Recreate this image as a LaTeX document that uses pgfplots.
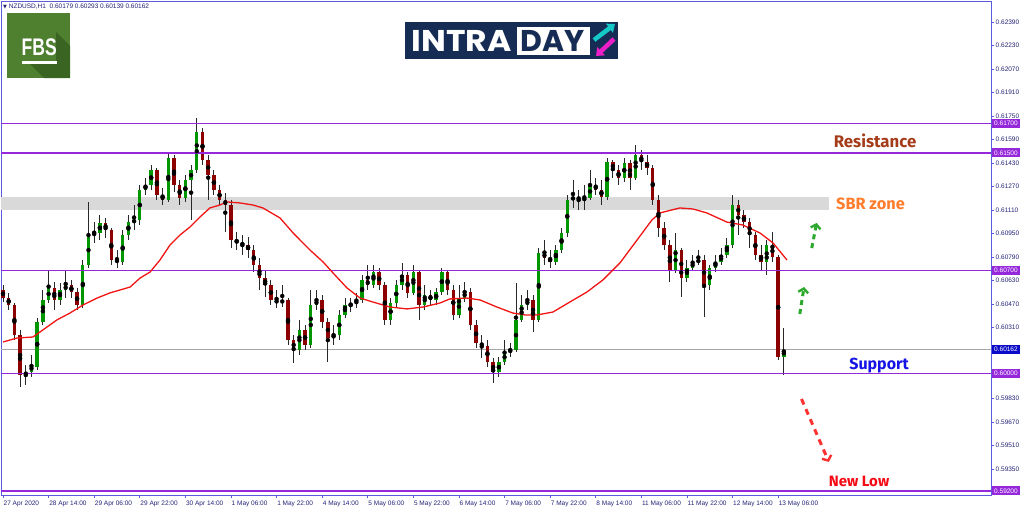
\documentclass[border=0pt]{standalone}
\usepackage{fontspec}
\setmainfont{Liberation Sans}
\newfontfamily\annotfont{Fira Sans}
\newfontfamily\logofont{Poppins}
\newfontfamily\symfont{DejaVu Sans}
\usepackage{graphicx}
\usepackage{pgfplots}
\usepackage{pgfplotstable}
\pgfplotsset{compat=1.18}
\usetikzlibrary{arrows.meta}

\definecolor{framecol}{RGB}{90,90,220}
\definecolor{tickcol}{RGB}{35,35,120}
\definecolor{lvl}{RGB}{150,40,220}
\definecolor{pricebox}{RGB}{10,10,200}
\definecolor{bullc}{RGB}{0,150,0}
\definecolor{bearc}{RGB}{140,0,0}
\definecolor{wickc}{RGB}{40,40,40}
\definecolor{mared}{RGB}{240,20,20}
\definecolor{resc}{RGB}{165,60,25}
\definecolor{sbrc}{RGB}{255,125,45}
\definecolor{supc}{RGB}{20,20,230}
\definecolor{lowc}{RGB}{245,10,20}
\definecolor{garrow}{RGB}{45,170,45}
\definecolor{rarrow}{RGB}{250,50,50}
\definecolor{fbsgreen}{RGB}{78,128,48}
\definecolor{fbsdark}{RGB}{58,100,34}
\definecolor{navy}{RGB}{22,44,84}
\definecolor{cyanl}{RGB}{20,200,200}
\definecolor{magl}{RGB}{235,30,200}

% H1 candles drawn at 2-hour steps; x = hours since 27 Apr 22:00
\pgfplotstableread{
x o h l c
8 0.59989 0.60057 0.59921 0.60009
10 0.60009 0.60125 0.59975 0.60057
12 0.60043 0.60377 0.60023 0.60350
14 0.60350 0.60567 0.60329 0.60499
16 0.60499 0.60703 0.60479 0.60581
20 0.60499 0.60615 0.60465 0.60567
22 0.60567 0.60703 0.60513 0.60601
28 0.60465 0.60771 0.60445 0.60737
30 0.60737 0.61166 0.60717 0.60941
32 0.60941 0.61030 0.60887 0.60955
34 0.60955 0.61077 0.60907 0.61023
42 0.60758 0.60975 0.60737 0.60941
44 0.60941 0.61077 0.60907 0.61030
46 0.61030 0.61145 0.60975 0.61043
48 0.61043 0.61282 0.61009 0.61248
50 0.61248 0.61329 0.61214 0.61282
52 0.61282 0.61417 0.61248 0.61383
58 0.61179 0.61506 0.61166 0.61465
64 0.61193 0.61350 0.61166 0.61315
66 0.61315 0.61417 0.61043 0.61383
68 0.61383 0.61737 0.61363 0.61642
98 0.60479 0.60601 0.60452 0.60499
104 0.60159 0.60363 0.60125 0.60295
108 0.60193 0.60567 0.60173 0.60465
110 0.60465 0.60567 0.60431 0.60499
116 0.60241 0.60329 0.60193 0.60261
118 0.60261 0.60431 0.60227 0.60397
120 0.60397 0.60513 0.60377 0.60465
122 0.60465 0.60513 0.60418 0.60472
124 0.60472 0.60547 0.60445 0.60499
126 0.60499 0.60669 0.60479 0.60635
130 0.60601 0.60737 0.60581 0.60690
136 0.60363 0.60513 0.60329 0.60479
138 0.60479 0.60635 0.60445 0.60601
140 0.60601 0.60751 0.60567 0.60669
144 0.60547 0.60737 0.60533 0.60690
148 0.60465 0.60601 0.60431 0.60533
152 0.60499 0.60581 0.60465 0.60554
154 0.60554 0.60717 0.60533 0.60690
160 0.60397 0.60601 0.60377 0.60513
162 0.60513 0.60622 0.60486 0.60554
174 0.60009 0.60111 0.59975 0.60077
176 0.60077 0.60227 0.60057 0.60145
178 0.60145 0.60207 0.60111 0.60159
180 0.60159 0.60615 0.60145 0.60363
182 0.60363 0.60533 0.60350 0.60465
184 0.60465 0.60567 0.60431 0.60499
188 0.60363 0.60853 0.60350 0.60819
194 0.60758 0.60873 0.60737 0.60839
196 0.60839 0.60989 0.60819 0.60955
198 0.60955 0.61214 0.60928 0.61179
200 0.61179 0.61315 0.61125 0.61200
204 0.61179 0.61282 0.61112 0.61193
206 0.61193 0.61383 0.61179 0.61282
212 0.61200 0.61465 0.61179 0.61438
218 0.61329 0.61465 0.61302 0.61431
222 0.61329 0.61553 0.61315 0.61486
236 0.60703 0.60955 0.60683 0.60839
240 0.60649 0.60771 0.60622 0.60717
242 0.60717 0.60805 0.60703 0.60758
244 0.60758 0.60839 0.60737 0.60771
248 0.60601 0.60737 0.60567 0.60717
250 0.60717 0.60805 0.60690 0.60758
252 0.60758 0.60853 0.60737 0.60805
254 0.60805 0.60921 0.60785 0.60873
256 0.60873 0.61214 0.60853 0.61145
268 0.60758 0.60907 0.60669 0.60873
274 0.60111 0.60309 0.59989 0.60162
}\bull

\pgfplotstableread{
x o h l c
0 0.60567 0.60601 0.60486 0.60513
2 0.60513 0.60547 0.60431 0.60465
4 0.60465 0.60479 0.60227 0.60261
6 0.60261 0.60295 0.59907 0.59989
18 0.60581 0.60622 0.60431 0.60499
24 0.60601 0.60635 0.60513 0.60554
26 0.60554 0.60581 0.60431 0.60465
36 0.61023 0.61057 0.60921 0.60975
38 0.60975 0.60989 0.60737 0.60771
40 0.60771 0.60839 0.60717 0.60758
54 0.61383 0.61397 0.61179 0.61214
56 0.61214 0.61261 0.61145 0.61179
60 0.61465 0.61486 0.61234 0.61282
62 0.61282 0.61315 0.61145 0.61193
70 0.61642 0.61669 0.61417 0.61451
72 0.61451 0.61486 0.61179 0.61350
74 0.61350 0.61383 0.61214 0.61248
76 0.61248 0.61282 0.61145 0.61179
78 0.61179 0.61227 0.60962 0.61145
80 0.61145 0.61179 0.60853 0.60907
82 0.60907 0.60962 0.60839 0.60887
84 0.60887 0.60941 0.60805 0.60873
86 0.60873 0.60928 0.60785 0.60839
88 0.60839 0.60873 0.60690 0.60737
90 0.60737 0.60785 0.60567 0.60649
92 0.60649 0.60703 0.60520 0.60601
94 0.60601 0.60635 0.60465 0.60499
96 0.60499 0.60567 0.60445 0.60479
100 0.60499 0.60513 0.60193 0.60227
102 0.60227 0.60261 0.60071 0.60159
106 0.60295 0.60329 0.60159 0.60193
112 0.60499 0.60533 0.60309 0.60350
114 0.60350 0.60377 0.60077 0.60241
128 0.60635 0.60737 0.60567 0.60601
132 0.60690 0.60717 0.60567 0.60601
134 0.60601 0.60622 0.60329 0.60363
142 0.60669 0.60690 0.60513 0.60547
146 0.60690 0.60703 0.60363 0.60465
150 0.60533 0.60567 0.60465 0.60499
156 0.60690 0.60703 0.60533 0.60567
158 0.60567 0.60601 0.60363 0.60397
164 0.60554 0.60581 0.60295 0.60329
166 0.60329 0.60363 0.60173 0.60207
168 0.60207 0.60261 0.60105 0.60186
170 0.60186 0.60227 0.60043 0.60077
172 0.60077 0.60105 0.59935 0.60009
186 0.60499 0.60533 0.60282 0.60363
190 0.60819 0.60907 0.60737 0.60785
192 0.60785 0.60839 0.60717 0.60758
202 0.61200 0.61248 0.61112 0.61179
208 0.61282 0.61329 0.61214 0.61248
210 0.61248 0.61315 0.61145 0.61200
214 0.61438 0.61451 0.61329 0.61383
216 0.61383 0.61417 0.61282 0.61329
220 0.61431 0.61451 0.61248 0.61329
224 0.61486 0.61519 0.61383 0.61438
226 0.61438 0.61486 0.61350 0.61397
228 0.61397 0.61417 0.61145 0.61179
230 0.61179 0.61214 0.60928 0.60989
232 0.60989 0.61030 0.60839 0.60873
234 0.60873 0.60907 0.60622 0.60703
238 0.60839 0.60853 0.60520 0.60649
246 0.60771 0.60805 0.60384 0.60601
258 0.61145 0.61179 0.60941 0.61077
260 0.61077 0.61112 0.60989 0.61030
262 0.61030 0.61057 0.60853 0.60941
264 0.60941 0.60962 0.60771 0.60805
266 0.60805 0.60873 0.60703 0.60758
270 0.60873 0.60962 0.60758 0.60792
272 0.60792 0.60805 0.60091 0.60111
}\bear

\begin{document}
\begin{tikzpicture}
\useasboundingbox (0,0) rectangle (1024pt,-511pt);

\begin{axis}[
  at={(1pt,-1pt)}, anchor=north west,
  scale only axis, width=990pt, height=494pt,
  xmin=-0.7, xmax=346.7, ymin=0.59172, ymax=0.62533,
  axis line style={framecol, line width=0.8pt},
  xtick pos=bottom, ytick pos=right, yticklabel pos=right,
  tick align=outside, major tick length=3pt,
  tick style={framecol, line width=0.6pt},
  xtick={0,16,...,272},
  xticklabels={27 Apr 2020,28 Apr 14:00,29 Apr 06:00,29 Apr 22:00,30 Apr 14:00,1 May 06:00,1 May 22:00,4 May 14:00,5 May 06:00,5 May 22:00,6 May 14:00,7 May 06:00,7 May 22:00,8 May 14:00,11 May 06:00,11 May 22:00,12 May 14:00,13 May 06:00},
  ytick={0.6239,0.6223,0.6207,0.6191,0.6175,0.6159,0.6143,0.6127,0.6111,0.6095,0.6079,0.6063,0.6047,0.6031,0.5983,0.5967,0.5951,0.5935},
  yticklabels={0.62390,0.62230,0.62070,0.61910,0.61750,0.61590,0.61430,0.61270,0.61110,0.60950,0.60790,0.60630,0.60470,0.60310,0.59830,0.59670,0.59510,0.59350},
  x tick label style={font=\fontsize{6.5}{7}\selectfont, text=tickcol, anchor=north west, inner sep=0pt, xshift=0.5pt, yshift=-3pt},
  y tick label style={font=\fontsize{6.5}{7}\selectfont, text=tickcol, anchor=west, inner sep=0pt, xshift=1.5pt},
]
% SBR zone band
\fill[black!15] (axis cs:-1,0.6111) rectangle (axis cs:289.8,0.6120);
% current price line
\addplot[gray!70, line width=0.6pt, forget plot] coordinates {(-1,0.60162) (347,0.60162)};

% wicks
\addplot[only marks, mark=none, forget plot, error bars/.cd, y dir=both, y explicit, error mark=none,
  error bar style={line width=0.9pt, draw=wickc}]
  table[x=x, y expr={(\thisrow{h}+\thisrow{l})/2}, y error expr={(\thisrow{h}-\thisrow{l})/2}] {\bull};
\addplot[only marks, mark=none, forget plot, error bars/.cd, y dir=both, y explicit, error mark=none,
  error bar style={line width=0.9pt, draw=wickc}]
  table[x=x, y expr={(\thisrow{h}+\thisrow{l})/2}, y error expr={(\thisrow{h}-\thisrow{l})/2}] {\bear};
% bodies
\addplot[only marks, mark=none, forget plot, error bars/.cd, y dir=both, y explicit, error mark=none,
  error bar style={line width=3.4pt, draw=bullc}]
  table[x=x, y expr={(\thisrow{o}+\thisrow{c})/2}, y error expr={max(abs(\thisrow{c}-\thisrow{o})/2,0.00003)}] {\bull};
\addplot[only marks, mark=none, forget plot, error bars/.cd, y dir=both, y explicit, error mark=none,
  error bar style={line width=3.4pt, draw=bearc}]
  table[x=x, y expr={(\thisrow{o}+\thisrow{c})/2}, y error expr={max(abs(\thisrow{c}-\thisrow{o})/2,0.00003)}] {\bear};

% key levels
\addplot[lvl, line width=1.5pt, forget plot] coordinates {(-1,0.6170) (347,0.6170)};
\addplot[lvl, line width=1.5pt, forget plot] coordinates {(-1,0.6150) (347,0.6150)};
\addplot[lvl, line width=1.5pt, forget plot] coordinates {(-1,0.6070) (347,0.6070)};
\addplot[lvl, line width=1.5pt, forget plot] coordinates {(-1,0.6000) (347,0.6000)};
\addplot[lvl, line width=1.5pt, forget plot] coordinates {(-1,0.5920) (347,0.5920)};

% moving average
\addplot[mared, line width=1.3pt] coordinates {
(0,0.60213) (4.9,0.60240) (10.5,0.60247) (14.0,0.60295) (18.9,0.60363) (23.5,0.60410)
(28.1,0.60465) (33.0,0.60512) (37.5,0.60547) (41.1,0.60567) (44.6,0.60587) (48.1,0.60648)
(51.6,0.60689) (55.1,0.60771) (58.6,0.60873) (62.1,0.60941) (65.6,0.60995) (69.1,0.61063)
(72.6,0.61125) (76.1,0.61145) (78.6,0.61166) (83.2,0.61159) (87.7,0.61145) (91.2,0.61125)
(97.2,0.61057) (101.8,0.60955) (107.7,0.60839) (112.3,0.60758) (115.8,0.60683) (120.7,0.60581)
(125.3,0.60512) (129.8,0.60485) (135.8,0.60451) (141.8,0.60438) (147.4,0.60451) (153.3,0.60478)
(156.8,0.60506) (162.8,0.60512) (167.4,0.60499) (173.3,0.60451) (178.9,0.60410) (183.2,0.60397)
(187.4,0.60397) (193.0,0.60417) (198.9,0.60485) (204.9,0.60553) (210.5,0.60635) (216.5,0.60751)
(222.5,0.60907) (227.7,0.61043) (230.5,0.61091) (237.5,0.61125) (242.1,0.61118) (247.0,0.61091)
(254.0,0.61029) (259.6,0.61009) (265.6,0.60955) (270.2,0.60887) (275.1,0.60771)
};

% annotations
\node[font=\annotfont\bfseries\fontsize{16.8}{17}\selectfont, text=resc] at (axis cs:306.0,0.61580) {Resistance};
\node[font=\annotfont\bfseries\fontsize{16.3}{17}\selectfont, text=sbrc, anchor=west, inner sep=0pt] at (axis cs:292.3,0.61152) {SBR zone};
\node[font=\annotfont\bfseries\fontsize{16}{17}\selectfont, text=supc] at (axis cs:307.4,0.60050) {Support};
\node[font=\annotfont\bfseries\fontsize{15}{16}\selectfont, text=lowc] at (axis cs:300.4,0.59261) {New Low};
\draw[garrow, line width=3pt, dash pattern=on 5pt off 4pt, -{Straight Barb[length=4pt,width=10pt,line width=2.4pt]}]
  (axis cs:283.8,0.60852) -- (axis cs:285.5,0.61023);
\draw[garrow, line width=3pt, dash pattern=on 5pt off 4pt, -{Straight Barb[length=4pt,width=10pt,line width=2.4pt]}]
  (axis cs:279.6,0.60404) -- (axis cs:281.1,0.60587);
\draw[rarrow, line width=3pt, dash pattern=on 6pt off 5pt, -{Straight Barb[length=4pt,width=10pt,line width=2.4pt]}]
  (axis cs:280.2,0.59825) -- (axis cs:289.8,0.59397);

\coordinate (b617) at (axis cs:346.7,0.6170);
\coordinate (b615) at (axis cs:346.7,0.6150);
\coordinate (b607) at (axis cs:346.7,0.6070);
\coordinate (b600) at (axis cs:346.7,0.6000);
\coordinate (b592) at (axis cs:346.7,0.5920);
\coordinate (bcur) at (axis cs:346.7,0.60162);
\end{axis}

\tikzset{lvlbox/.style={anchor=west, fill=lvl, text=white, font=\fontsize{6.5}{7}\selectfont, inner xsep=2.5pt, inner ysep=1.2pt, minimum height=9pt, xshift=0.5pt}}
\node[lvlbox] at (b617) {0.61700};
\node[lvlbox] at (b615) {0.61500};
\node[lvlbox] at (b607) {0.60700};
\node[lvlbox] at (b600) {0.60000};
\node[lvlbox] at (b592) {0.59200};
\node[lvlbox, fill=pricebox] at (bcur) {0.60162};

\begin{scope}[x=1pt, y=-1pt]
% header
\node[anchor=west, inner sep=0pt, text=tickcol, font=\fontsize{6.5}{7}\selectfont] at (3,7)
  {{\symfont\fontsize{5}{6}\selectfont ▼}\ NZDUSD,H1\ \ 0.60179 0.60293 0.60139 0.60162};
% FBS logo
\fill[fbsgreen] (7,13) rectangle (70,78);
\fill[fbsdark] (56,32) -- (70,46) -- (70,78) -- (44,78) -- (30,64) -- (56,64) -- cycle;
\node[text=white, inner sep=0pt, anchor=base, font=\bfseries\fontsize{24}{24}\selectfont] at (39.2,55.5) {\scalebox{0.73}[1]{FBS}};
\fill[white] (21.7,61) rectangle (56.7,63.6);
% INTRADAY logo
\fill[navy] (405,21.7) rectangle (618,59.3);
\fill[white] (516.7,26.7) rectangle (590,55);
\node[anchor=base west, inner sep=0pt, text=white, font=\logofont\bfseries\fontsize{30}{30}\selectfont] at (411.7,51.7) {\scalebox{1.1}[1]{INTRA}};
\node[anchor=base, inner sep=0pt, text=navy, font=\logofont\bfseries\fontsize{30}{30}\selectfont] at (553,51.7) {DAY};
\draw[cyanl, line width=4.5pt, -{Triangle[length=7pt,width=11pt]}] (594,40) -- (615,24);
\draw[magl, line width=4.5pt, -{Triangle[length=7pt,width=11pt]}] (614,39) -- (596,56);
\end{scope}
\end{tikzpicture}
\end{document}
